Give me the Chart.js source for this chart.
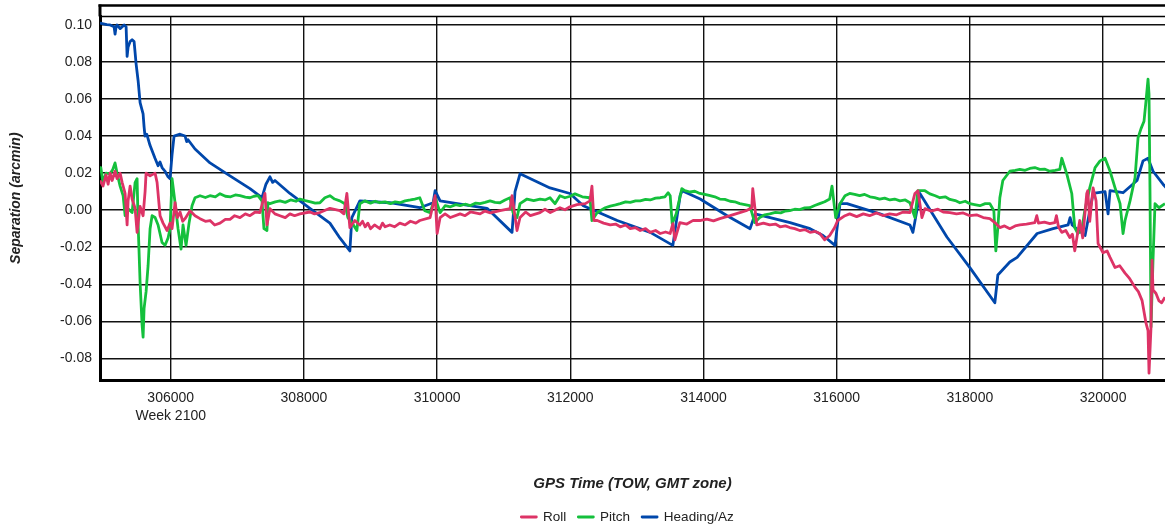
<!DOCTYPE html>
<html>
<head>
<meta charset="utf-8">
<script src="https://cdn.jsdelivr.net/npm/chart.js@4.4.1/dist/chart.umd.min.js"></script>
<style>
  body { margin: 0; background: #fff; }
</style>
</head>
<body>
<canvas id="sepChart" width="1165" height="531"></canvas>
<script>
// GPS time of week (s) and separation (arcmin)
const roll = [
  [304938, 0.016], [304983, 0.013], [305029, 0.019], [305060, 0.014], [305089, 0.020], [305120, 0.016],
  [305164, 0.021], [305194, 0.017], [305240, 0.020], [305270, 0.015], [305315, 0.009], [305345, -0.008],
  [305360, 0.005], [305390, 0.013], [305420, 0.006], [305465, 0.001], [305495, -0.012], [305540, 0.002],
  [305585, -0.003], [305615, 0.010], [305630, 0.020], [305690, 0.0185], [305765, 0.020], [305795, 0.015],
  [305840, -0.003], [305885, -0.007], [305945, -0.011], [305990, -0.007], [306020, -0.010], [306065, 0.004],
  [306100, -0.004], [306140, -0.001], [306180, -0.006], [306215, -0.0046], [306290, -0.0003], [306365, -0.003],
  [306440, -0.0046], [306520, -0.006], [306590, -0.0056], [306660, -0.008], [306740, -0.007], [306820, -0.005],
  [306890, -0.005], [306960, -0.003], [307040, -0.004], [307120, -0.002], [307190, -0.003], [307270, -0.001],
  [307340, -0.0013], [307415, 0.009], [307445, -0.008], [307490, 0.0008], [307565, -0.002], [307640, -0.003],
  [307720, -0.004], [307790, -0.002], [307860, -0.003], [307940, -0.002], [308090, -0.001], [308160, -0.002],
  [308240, -0.0013], [308390, 0.001], [308540, -0.0003], [308600, -0.002], [308645, 0.009], [308690, -0.0094],
  [308765, -0.0056], [308840, -0.008], [308880, -0.006], [308920, -0.009], [308960, -0.007], [309000, -0.010],
  [309060, -0.008], [309140, -0.010], [309180, -0.007], [309220, -0.009], [309290, -0.008], [309360, -0.009],
  [309440, -0.007], [309520, -0.008], [309600, -0.006], [309680, -0.007], [309740, -0.0056], [309895, -0.004],
  [309970, 0.0078], [310000, -0.0126], [310045, -0.004], [310120, -0.002], [310200, -0.004], [310345, -0.002],
  [310420, -0.003], [310500, -0.001], [310645, -0.002], [310720, -0.0005], [310800, -0.0015], [310945, -0.0003],
  [311095, 0.0008], [311125, 0.0078], [311200, -0.011], [311245, -0.004], [311330, -0.001], [311400, -0.003],
  [311545, -0.0013], [311620, 0.0005], [311700, -0.0013], [311845, 0.0013], [311920, 0.0002], [311995, 0.0018],
  [312100, 0.003], [312225, 0.0035], [312295, 0.005], [312325, 0.013], [312355, -0.0056], [312405, -0.0056],
  [312500, -0.007], [312600, -0.008], [312680, -0.0075], [312750, -0.009], [312830, -0.008], [312900, -0.010],
  [312980, -0.0095], [313050, -0.011], [313130, -0.010], [313200, -0.012], [313280, -0.011], [313350, -0.0126],
  [313430, -0.0118], [313500, -0.0126], [313540, -0.0073], [313570, -0.016], [313645, -0.0067], [313750, -0.0075],
  [313845, -0.0055], [313945, -0.0056], [314050, -0.0048], [314150, -0.0058], [314245, -0.0046], [314400, -0.003],
  [314545, -0.0013], [314640, -0.0003], [314725, 0.0013], [314740, 0.0116], [314800, -0.008], [314900, -0.007],
  [314995, -0.008], [315080, -0.0075], [315150, -0.009], [315230, -0.0085], [315295, -0.0094], [315370, -0.010],
  [315445, -0.011], [315520, -0.0105], [315600, -0.012], [315680, -0.0115], [315745, -0.0126], [315820, -0.016],
  [315895, -0.0137], [315970, -0.0094], [316015, -0.0056], [316125, -0.003], [316195, -0.002], [316300, -0.0035],
  [316400, -0.002], [316495, -0.003], [316600, -0.0015], [316700, -0.003], [316795, -0.002], [316900, -0.0025],
  [317000, -0.001], [317100, -0.0013], [317175, 0.009], [317220, 0.0105], [317280, -0.004], [317325, 0.0008],
  [317420, -0.0005], [317520, 0.0005], [317600, -0.001], [317700, -0.0013], [317800, -0.002], [317900, -0.0015],
  [318000, -0.003], [318100, -0.0025], [318200, -0.004], [318300, -0.0046], [318375, -0.0067], [318450, -0.0094],
  [318520, -0.0085], [318600, -0.010], [318680, -0.0085], [318750, -0.008], [318850, -0.0075], [318975, -0.0067],
  [319005, -0.003], [319030, -0.007], [319120, -0.0065], [319200, -0.0073], [319275, -0.0067], [319300, -0.003],
  [319330, -0.009], [319380, -0.012], [319440, -0.011], [319500, -0.0148], [319540, -0.013], [319575, -0.022],
  [319620, -0.012], [319650, -0.0056], [319695, -0.015], [319755, 0.009], [319770, 0.0105], [319800, -0.006],
  [319850, 0.012], [319895, 0.005], [319925, -0.018], [320000, -0.023], [320060, -0.022], [320105, -0.0255],
  [320180, -0.031], [320250, -0.030], [320330, -0.034], [320400, -0.037], [320480, -0.0417], [320530, -0.044],
  [320585, -0.0487], [320645, -0.061], [320675, -0.065], [320690, -0.088], [320720, -0.063], [320735, -0.027],
  [320750, -0.043], [320795, -0.045], [320840, -0.049], [320880, -0.050], [320930, -0.047]
];

const pitch = [
  [304938, 0.021], [304950, 0.023], [304983, 0.0148], [305029, 0.020], [305089, 0.0196], [305130, 0.022],
  [305164, 0.0255], [305194, 0.020], [305240, 0.013], [305285, 0.0078], [305315, -0.003], [305360, 0.0008],
  [305420, -0.0013], [305465, 0.0148], [305495, 0.017], [305510, -0.007], [305540, -0.039], [305570, -0.062],
  [305585, -0.0686], [305600, -0.053], [305630, -0.044], [305660, -0.030], [305690, -0.010], [305720, -0.003],
  [305765, -0.004], [305810, -0.008], [305870, -0.0175], [305915, -0.019], [305960, -0.015], [305990, -0.010],
  [306020, 0.017], [306065, 0.004], [306110, -0.010], [306155, -0.021], [306185, -0.008], [306230, -0.019],
  [306275, -0.007], [306320, 0.0024], [306365, 0.0067], [306440, 0.0078], [306520, 0.0068], [306590, 0.0078],
  [306670, 0.0072], [306740, 0.0089], [306820, 0.0075], [306900, 0.0072], [306970, 0.0082], [307040, 0.0078],
  [307120, 0.0070], [307190, 0.0067], [307250, 0.0075], [307310, 0.0078], [307370, 0.005], [307400, -0.010],
  [307445, -0.011], [307460, 0.004], [307490, 0.0035], [307570, 0.0045], [307640, 0.005], [307720, 0.0042],
  [307800, 0.0055], [307880, 0.0048], [307940, 0.006], [308020, 0.0052], [308100, 0.0045], [308170, 0.0038],
  [308240, 0.004], [308315, 0.0067], [308390, 0.0078], [308460, 0.006], [308540, 0.005], [308615, 0.0035],
  [308660, -0.004], [308720, -0.0067], [308795, -0.011], [308840, 0.0035], [308915, 0.005], [309000, 0.0038],
  [309070, 0.0048], [309140, 0.004], [309220, 0.0045], [309300, 0.0035], [309370, 0.0045], [309440, 0.004],
  [309520, 0.005], [309600, 0.0055], [309665, 0.006], [309740, 0.0067], [309815, -0.0003], [309895, -0.0013],
  [309970, 0.0067], [310045, -0.0013], [310120, 0.0024], [310200, 0.0018], [310280, 0.003], [310345, 0.0024],
  [310420, 0.0032], [310500, 0.0025], [310580, 0.0038], [310645, 0.0035], [310720, 0.0042], [310795, 0.005],
  [310870, 0.0042], [310945, 0.004], [311020, 0.0055], [311095, 0.0067], [311140, -0.0013], [311200, -0.004],
  [311245, 0.0035], [311350, 0.006], [311450, 0.0052], [311545, 0.006], [311620, 0.0055], [311695, 0.0067],
  [311770, 0.0035], [311845, 0.0078], [311920, 0.0067], [312000, 0.0075], [312070, 0.0088], [312180, 0.0072],
  [312295, 0.0067], [312325, -0.0056], [312405, -0.0013], [312525, 0.0013], [312600, 0.0022], [312680, 0.0028],
  [312750, 0.0035], [312830, 0.0045], [312900, 0.0042], [312980, 0.005], [313050, 0.005], [313130, 0.0058],
  [313200, 0.0055], [313280, 0.0065], [313350, 0.0067], [313420, 0.0072], [313470, 0.0094], [313500, 0.0078],
  [313530, -0.0073], [313590, -0.002], [313675, 0.0116], [313720, 0.0105], [313800, 0.0098], [313870, 0.0102],
  [313945, 0.009], [314020, 0.0085], [314100, 0.0078], [314170, 0.0072], [314245, 0.006], [314320, 0.0058],
  [314400, 0.0048], [314470, 0.0045], [314545, 0.0035], [314620, 0.003], [314695, 0.0024], [314770, -0.0067],
  [314845, -0.004], [314920, -0.0025], [314995, -0.002], [315080, -0.0012], [315160, -0.0015], [315230, -0.0005],
  [315295, -0.0003], [315370, 0.0005], [315445, 0.0003], [315520, 0.0012], [315595, 0.0013], [315670, 0.0025],
  [315745, 0.0035], [315820, 0.0045], [315895, 0.006], [315930, 0.013], [315985, -0.004], [316050, 0.0035],
  [316125, 0.0078], [316195, 0.009], [316270, 0.0085], [316345, 0.0078], [316420, 0.0085], [316500, 0.0072],
  [316570, 0.0068], [316645, 0.006], [316720, 0.0065], [316800, 0.0055], [316870, 0.006], [316950, 0.005],
  [317030, 0.0055], [317100, 0.004], [317175, -0.004], [317220, 0.0105], [317325, 0.0105], [317400, 0.0088],
  [317480, 0.0078], [317550, 0.0067], [317630, 0.0072], [317700, 0.0058], [317780, 0.0052], [317850, 0.004],
  [317930, 0.0048], [318000, 0.0035], [318070, 0.003], [318150, 0.0024], [318230, 0.0035], [318300, 0.0035],
  [318360, -0.0003], [318390, -0.022], [318420, -0.0094], [318450, 0.0067], [318495, 0.016], [318600, 0.021],
  [318680, 0.0215], [318750, 0.022], [318830, 0.0215], [318900, 0.0225], [318975, 0.023], [319050, 0.022],
  [319120, 0.0222], [319200, 0.021], [319280, 0.0215], [319350, 0.022], [319380, 0.028], [319455, 0.0196],
  [319530, 0.009], [319575, -0.0094], [319620, -0.0126], [319680, -0.011], [319725, -0.0003], [319800, 0.012],
  [319880, 0.023], [319955, 0.0266], [320030, 0.028], [320105, 0.021], [320180, 0.012], [320255, 0.0035],
  [320300, -0.0126], [320330, -0.0056], [320405, 0.005], [320480, 0.0175], [320525, 0.039], [320570, 0.044],
  [320615, 0.048], [320645, 0.059], [320675, 0.0707], [320690, 0.0626], [320705, 0.009], [320720, -0.063],
  [320750, -0.027], [320780, 0.0035], [320840, 0.0013], [320930, 0.0035]
];

const heading = [
  [304938, 0.101], [305040, 0.1002], [305089, 0.100], [305150, 0.099], [305164, 0.095], [305180, 0.099],
  [305194, 0.100], [305240, 0.098], [305300, 0.100], [305330, 0.099], [305345, 0.083], [305360, 0.088],
  [305390, 0.091], [305420, 0.092], [305450, 0.091], [305465, 0.085], [305480, 0.079], [305510, 0.070],
  [305540, 0.058], [305570, 0.054], [305585, 0.052], [305600, 0.045], [305614, 0.040], [305640, 0.041],
  [305689, 0.035], [305764, 0.028], [305810, 0.024], [305839, 0.026], [305870, 0.023], [305914, 0.021],
  [305960, 0.018], [305990, 0.017], [306020, 0.030], [306050, 0.040], [306140, 0.041], [306215, 0.040],
  [306240, 0.037], [306260, 0.038], [306365, 0.033], [306590, 0.0255], [306890, 0.0185], [307190, 0.0116],
  [307370, 0.0067], [307430, 0.014], [307490, 0.018], [307530, 0.015], [307565, 0.016], [307790, 0.009],
  [308090, 0.001], [308390, -0.007], [308540, -0.015], [308690, -0.022], [308720, -0.004], [308840, 0.005],
  [309290, 0.004], [309740, 0.0013], [309940, 0.004], [309970, 0.0105], [310045, 0.005], [310750, 0.001],
  [311125, -0.012], [311170, 0.010], [311245, 0.0196], [311695, 0.012], [311995, 0.009], [312195, 0.0024],
  [312705, -0.0056], [313200, -0.012], [313540, -0.019], [313650, 0.008], [313680, 0.0105], [313950, 0.006],
  [314355, -0.003], [314700, -0.010], [314775, -0.002], [315300, -0.0067], [315600, -0.010], [315795, -0.0137],
  [315975, -0.019], [316050, 0.0035], [316155, 0.0035], [316650, -0.002], [317100, -0.008], [317145, -0.012],
  [317250, 0.009], [317655, -0.0145], [318000, -0.031], [318375, -0.050], [318420, -0.035], [318600, -0.028],
  [318710, -0.0255], [319010, -0.0126], [319250, -0.010], [319475, -0.008], [319505, -0.004], [319535, -0.008],
  [319730, -0.0137], [319850, 0.009], [320030, 0.010], [320075, -0.002], [320105, 0.0105], [320300, 0.0094],
  [320510, 0.016], [320600, 0.0266], [320675, 0.028], [320750, 0.021], [320900, 0.014], [320975, 0.011]
];

const seriesNames = ['Roll', 'Pitch', 'Heading/Az'];
const seriesColors = ['#DD3366', '#14C03C', '#0047AB'];
const xTicks = [306000, 308000, 310000, 312000, 314000, 316000, 318000, 320000];
const yTicks = [-0.08, -0.06, -0.04, -0.02, 0, 0.02, 0.04, 0.06, 0.08, 0.10];

const font = "'Liberation Sans', Arial, sans-serif";

function toPoints(arr) {
    return arr.map(p => ({x: p[0], y: p[1]}));
}

const datasets = [roll, pitch, heading].map((s, i) => ({
    label: seriesNames[i],
    data: toPoints(s),
    borderColor: seriesColors[i],
    backgroundColor: seriesColors[i],
    borderWidth: 2.8,
    borderJoinStyle: 'round',
    pointRadius: 0,
    tension: 0
}));

// extra frame lines above the plot, and nudge the legend under the plot area
const framePlugin = {
    id: 'frame',
    afterLayout(chart) {
        const lg = chart.legend;
        lg.left += 45; lg.right += 45;
        lg.top += 2.75; lg.bottom += 2.75;
    },
    afterDraw(chart) {
        const {ctx, chartArea: a} = chart;
        ctx.save();
        ctx.strokeStyle = '#000';
        ctx.lineWidth = 1.5;
        ctx.beginPath(); ctx.moveTo(a.left, a.top); ctx.lineTo(a.right, a.top); ctx.stroke();
        ctx.lineWidth = 2.5;
        ctx.beginPath(); ctx.moveTo(a.left - 1.5, 5.5); ctx.lineTo(a.right, 5.5); ctx.stroke();
        ctx.lineWidth = 3;
        ctx.beginPath(); ctx.moveTo(a.left, 4.5); ctx.lineTo(a.left, a.top); ctx.stroke();
        ctx.restore();
    }
};

const config = {
    type: 'line',
    data: { datasets: datasets },
    options: {
        responsive: false,
        animation: false,
        layout: { padding: { top: 15, right: 0, left: 0, bottom: 0 } },
        plugins: {
            legend: {
                position: 'bottom',
                labels: {
                    boxWidth: 15,
                    boxHeight: 0,
                    padding: 12,
                    color: '#222',
                    font: { family: font, size: 13.5 }
                }
            },
            tooltip: { enabled: false }
        },
        scales: {
            x: {
                type: 'linear',
                min: 304938,
                max: 320930,
                afterFit: scale => { scale.height = 115.5; },
                afterBuildTicks: scale => { scale.ticks = xTicks.map(v => ({value: v})); },
                grid: { color: '#111', lineWidth: 1.4, drawTicks: false },
                border: { color: '#000', width: 3 },
                ticks: {
                    padding: 9,
                    color: '#222',
                    maxRotation: 0,
                    font: { family: font, size: 14, lineHeight: 1.3 },
                    callback: v => v === 306000 ? ['306000', 'Week 2100'] : String(v)
                },
                title: {
                    display: true,
                    text: 'GPS Time (TOW, GMT zone)',
                    color: '#222',
                    font: { family: font, size: 15, weight: 'bold', style: 'italic' },
                    padding: { top: 10, bottom: 2.5 }
                }
            },
            y: {
                min: -0.0917,
                max: 0.1046,
                afterFit: scale => { scale.width = 100; },
                afterBuildTicks: scale => { scale.ticks = yTicks.map(v => ({value: v})); },
                grid: { color: '#111', lineWidth: 1.4, drawTicks: false },
                border: { color: '#000', width: 3 },
                ticks: {
                    padding: 8,
                    color: '#222',
                    font: { family: font, size: 14 },
                    callback: v => v.toFixed(2)
                },
                title: {
                    display: true,
                    text: 'Separation (arcmin)',
                    color: '#222',
                    font: { family: font, size: 14, weight: 'bold', style: 'italic' },
                    padding: { top: 7.6, bottom: 0 }
                }
            }
        }
    },
    plugins: [framePlugin]
};

new Chart(document.getElementById('sepChart'), config);
</script>
</body>
</html>
